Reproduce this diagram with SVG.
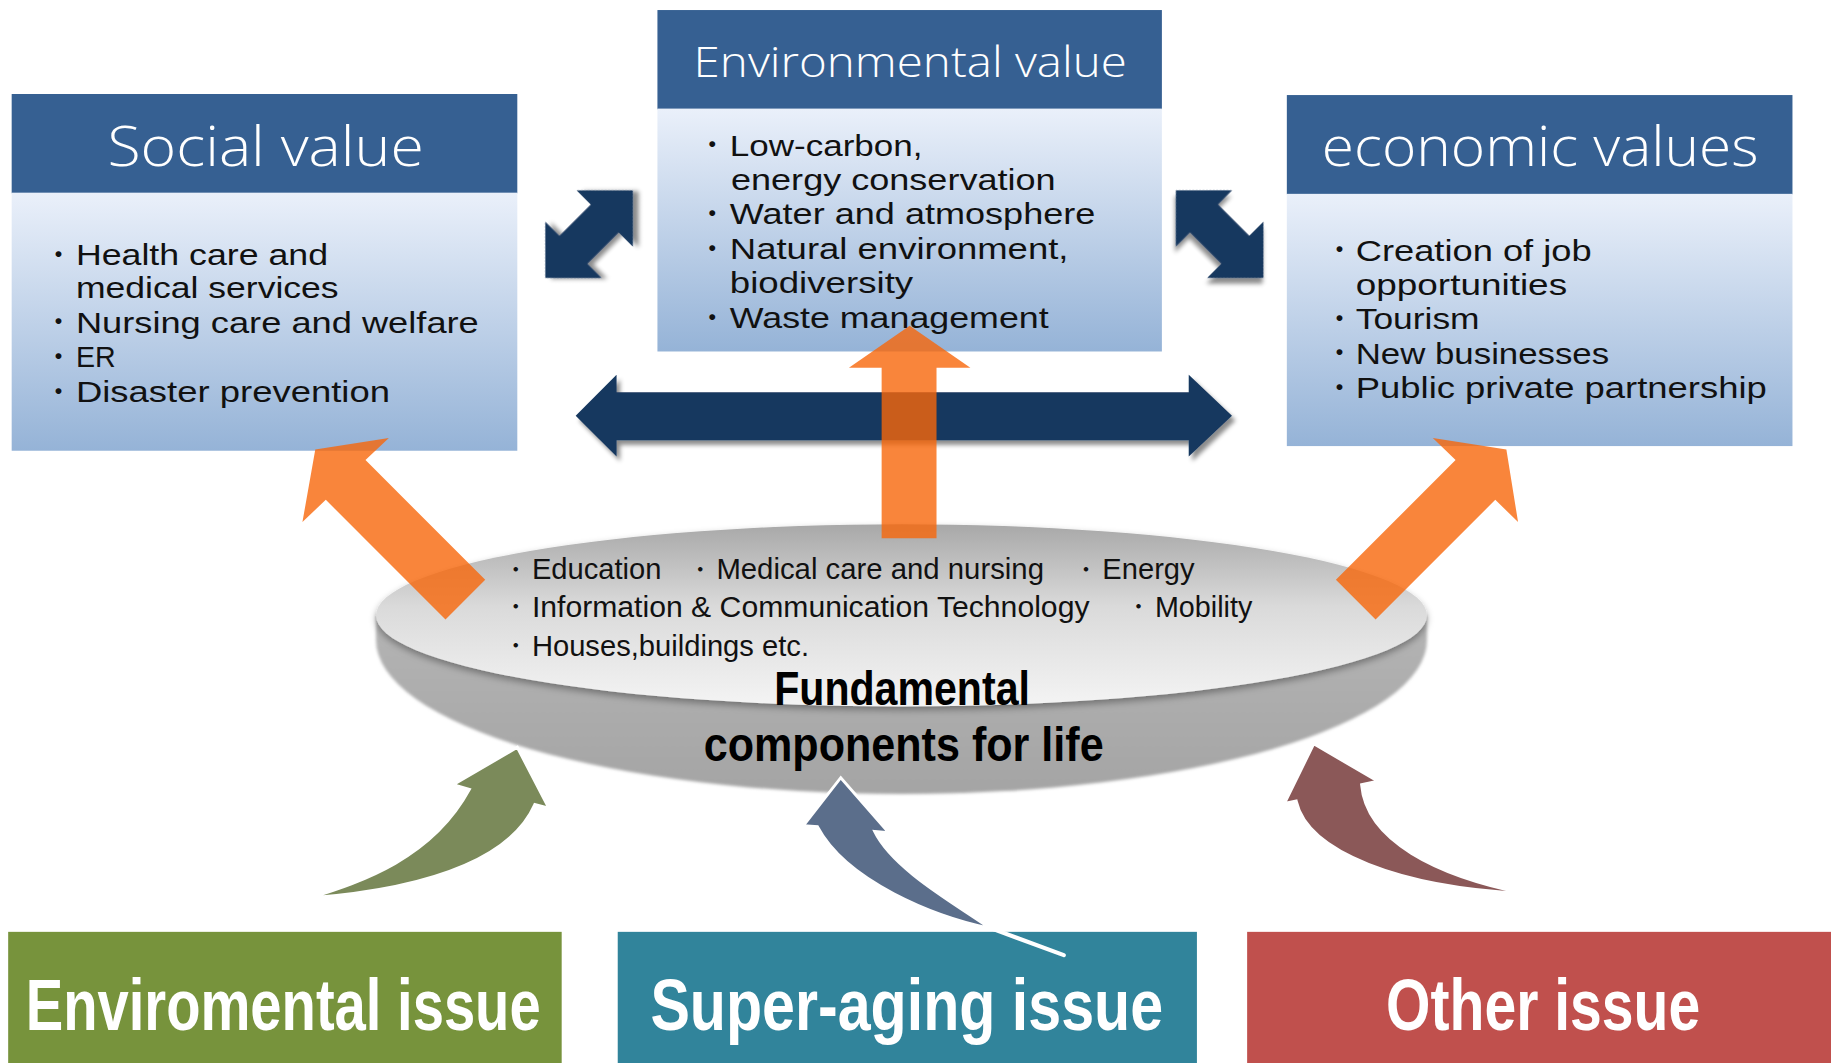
<svg xmlns="http://www.w3.org/2000/svg" width="1831" height="1063" viewBox="0 0 1831 1063">
<defs>
<linearGradient id="bodyGrad" x1="0" y1="0" x2="0" y2="1"><stop offset="0" stop-color="#eaf0fa"/><stop offset="1" stop-color="#95b3d7"/></linearGradient>
<linearGradient id="topGrad" x1="0" y1="0" x2="0" y2="1"><stop offset="0" stop-color="#a8a8a8"/><stop offset="0.45" stop-color="#dadada"/><stop offset="1" stop-color="#f4f4f4"/></linearGradient>
<linearGradient id="sideGrad" x1="0" y1="0" x2="0" y2="1"><stop offset="0" stop-color="#b4b4b4"/><stop offset="1" stop-color="#a4a4a4"/></linearGradient>
<filter id="sh" x="-20%" y="-20%" width="150%" height="150%"><feDropShadow dx="3" dy="4" stdDeviation="2" flood-color="#000" flood-opacity="0.45"/></filter>
<filter id="soft" x="-5%" y="-5%" width="110%" height="115%"><feGaussianBlur stdDeviation="1.3"/></filter>
<filter id="topSh" x="-5%" y="-10%" width="110%" height="130%"><feDropShadow dx="0" dy="3" stdDeviation="3" flood-color="#000" flood-opacity="0.35"/></filter>
</defs>
<style>
.hdr{fill:#366092}
.bd{fill:url(#bodyGrad)}
.ttl{font-family:"Open Sans","Liberation Sans",sans-serif;font-weight:300;fill:#fff}
.itm{font-family:"Liberation Sans",sans-serif;font-size:25px;fill:#111}
.bul{font-family:"Noto Sans CJK JP",sans-serif;font-size:18px;font-weight:900;fill:#111}
.navy{fill:#17375e;filter:url(#sh)}
.orange{fill:#f7660a;fill-opacity:0.8}
.etx{font-family:"Liberation Sans","Noto Sans CJK JP",sans-serif;font-size:26px;fill:#111}
.ebul{font-family:"Noto Sans CJK JP",sans-serif;font-size:18px;fill:#111}
.fund{font-family:"Liberation Sans",sans-serif;font-weight:bold;font-size:41px;fill:#000}
.issue{font-family:"Liberation Sans",sans-serif;font-weight:bold;font-size:62px;fill:#fff}
.carrow{stroke:#fff;stroke-width:2.5;stroke-linejoin:miter}
</style>
<rect width="1831" height="1063" fill="#fff"/>
<g transform="scale(1.16773)">
<g id="social-value">
<rect class="hdr" x="10" y="80.5" width="433" height="85"/>
<rect class="bd" x="10" y="165" width="433" height="221"/>
<text class="ttl" x="92" y="142" font-size="47" textLength="271" lengthAdjust="spacingAndGlyphs">Social value</text>
<text class="bul" x="41" y="224">・</text><text class="itm" x="65" y="227" textLength="216" lengthAdjust="spacingAndGlyphs">Health care and</text>
<text class="itm" x="65" y="255.5" textLength="225" lengthAdjust="spacingAndGlyphs">medical services</text>
<text class="bul" x="41" y="282">・</text><text class="itm" x="65" y="285" textLength="345" lengthAdjust="spacingAndGlyphs">Nursing care and welfare</text>
<text class="bul" x="41" y="311.5">・</text><text class="itm" x="65" y="314.5" textLength="34" lengthAdjust="spacingAndGlyphs">ER</text>
<text class="bul" x="41" y="341.5">・</text><text class="itm" x="65" y="344.5" textLength="269" lengthAdjust="spacingAndGlyphs">Disaster prevention</text>
</g>
<g id="environmental-value">
<rect class="hdr" x="563" y="8.6" width="432" height="85"/>
<rect class="bd" x="563" y="93" width="432" height="208"/>
<text class="ttl" x="594" y="66" font-size="37" textLength="371" lengthAdjust="spacingAndGlyphs">Environmental value</text>
<text class="bul" x="601" y="130.5">・</text><text class="itm" x="625" y="133.5" textLength="165" lengthAdjust="spacingAndGlyphs">Low-carbon,</text>
<text class="itm" x="626" y="162.7" textLength="278" lengthAdjust="spacingAndGlyphs">energy conservation</text>
<text class="bul" x="601" y="189">・</text><text class="itm" x="625" y="192" textLength="313" lengthAdjust="spacingAndGlyphs">Water and atmosphere</text>
<text class="bul" x="601" y="219">・</text><text class="itm" x="625" y="222" textLength="290" lengthAdjust="spacingAndGlyphs">Natural environment,</text>
<text class="itm" x="625" y="250.6" textLength="157" lengthAdjust="spacingAndGlyphs">biodiversity</text>
<text class="bul" x="601" y="278">・</text><text class="itm" x="625" y="281" textLength="273" lengthAdjust="spacingAndGlyphs">Waste management</text>
</g>
<g id="economic-values">
<rect class="hdr" x="1102" y="81.4" width="433" height="85"/>
<rect class="bd" x="1102" y="166" width="433" height="216"/>
<text class="ttl" x="1132" y="142" font-size="47" textLength="374" lengthAdjust="spacingAndGlyphs">economic values</text>
<text class="bul" x="1138" y="220.5">・</text><text class="itm" x="1161" y="223.5" textLength="202" lengthAdjust="spacingAndGlyphs">Creation of job</text>
<text class="itm" x="1161" y="252.6" textLength="181" lengthAdjust="spacingAndGlyphs">opportunities</text>
<text class="bul" x="1138" y="279">・</text><text class="itm" x="1161" y="282" textLength="106" lengthAdjust="spacingAndGlyphs">Tourism</text>
<text class="bul" x="1138" y="308.7">・</text><text class="itm" x="1161" y="311.7" textLength="217" lengthAdjust="spacingAndGlyphs">New businesses</text>
<text class="bul" x="1138" y="338">・</text><text class="itm" x="1161" y="341" textLength="352" lengthAdjust="spacingAndGlyphs">Public private partnership</text>
</g>
<g id="fundamental">
<path d="M322,527 L322,548 A450 132 0 0 0 1222 548 L1222 527 Z" fill="url(#sideGrad)" filter="url(#soft)"/>
<ellipse cx="772" cy="527" rx="450" ry="78" fill="url(#topGrad)" filter="url(#topSh)"/>
</g>
<g id="connectors">
<path class="navy" transform="translate(467,238) rotate(-45)" d="M0,0 L34,-34 L34,-17 L72,-17 L72,-34 L106,0 L72,34 L72,17 L34,17 L34,34 Z"/>
<path class="navy" transform="translate(1007,163) rotate(45)" d="M0,0 L34,-34 L34,-17 L72,-17 L72,-34 L106,0 L72,34 L72,17 L34,17 L34,34 Z"/>
<path class="navy" d="M493,356 L528,321 L528,336 L1018,336 L1018,321 L1055,356 L1018,391 L1018,377 L528,377 L528,391 Z"/>
<path class="orange" d="M779,279 L831,315 L802,315 L802,461 L755,461 L755,315 L727,315 Z"/>
<path class="orange" d="M270,385 L333,375 L313,394 L415.5,496.5 L381.5,530.5 L279,428 L259,447 Z"/>
<path class="orange" d="M1290,385 L1300,447 L1280.5,428 L1178,530.5 L1144,496.5 L1246.5,394 L1227,375 Z"/>
</g>
<g id="fundamental-text">
<text class="ebul" x="432.7" y="494">・</text><text class="etx" x="455.5" y="496" textLength="111" lengthAdjust="spacingAndGlyphs">Education</text>
<text class="ebul" x="590.7" y="494">・</text><text class="etx" x="613.5" y="496" textLength="280.5" lengthAdjust="spacingAndGlyphs">Medical care and nursing</text>
<text class="ebul" x="921" y="494">・</text><text class="etx" x="944" y="496" textLength="79" lengthAdjust="spacingAndGlyphs">Energy</text>
<text class="ebul" x="432.7" y="526">・</text><text class="etx" x="455.5" y="528" textLength="477.5" lengthAdjust="spacingAndGlyphs">Information &amp; Communication Technology</text>
<text class="ebul" x="966" y="526">・</text><text class="etx" x="989" y="528" textLength="83.4" lengthAdjust="spacingAndGlyphs">Mobility</text>
<text class="ebul" x="432.7" y="559.5">・</text><text class="etx" x="455.5" y="561.5" textLength="237.3" lengthAdjust="spacingAndGlyphs">Houses,buildings etc.</text>
<text class="fund" x="663" y="604" textLength="219" lengthAdjust="spacingAndGlyphs">Fundamental</text>
<text class="fund" x="602.6" y="651.5" textLength="342.5" lengthAdjust="spacingAndGlyphs">components for life</text>
</g>
<g id="env-issue">
<rect x="7" y="798" width="474" height="114" fill="#77933c"/>
<text class="issue" x="22" y="882" textLength="441" lengthAdjust="spacingAndGlyphs">Enviromental issue</text>
</g>
<g id="aging-issue">
<rect x="529" y="798" width="496" height="114" fill="#31849b"/>
<text class="issue" x="557" y="882" textLength="439" lengthAdjust="spacingAndGlyphs">Super-aging issue</text>
</g>
<g id="other-issue">
<rect x="1068" y="798" width="502" height="114" fill="#c0504d"/>
<text class="issue" x="1187" y="882" textLength="269" lengthAdjust="spacingAndGlyphs">Other issue</text>
</g>
<g id="issue-connectors">
<path class="carrow" fill="#7b8a5a" d="M265,769 C310,755 370,735 402,676 L388,672 L443,640 L470,692 L458,689 C440,730 380,760 265,769 Z"/>
<path class="carrow" fill="#5b6e8b" d="M700,708 C725,755 800,785 848,795 C820,775 765,745 749,712 L761,713 L720,666 L688,707 Z"/>
<line x1="846" y1="794" x2="911" y2="818" stroke="#fff" stroke-width="3.5" stroke-linecap="round"/>
<path class="carrow" fill="#8b5858" d="M1305,765 C1200,760 1120,730 1110,686 L1100,688 L1125,637 L1180,669 L1166,672 C1170,720 1230,750 1305,765 Z"/>
</g>
</g>
</svg>
